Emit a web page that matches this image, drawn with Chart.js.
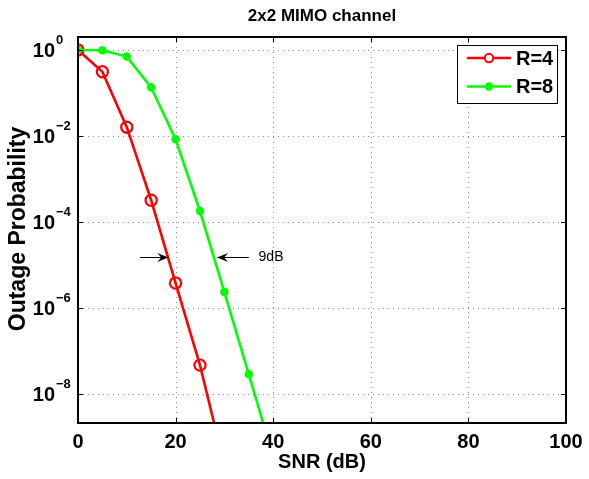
<!DOCTYPE html>
<html><head><meta charset="utf-8">
<script src="https://cdn.jsdelivr.net/npm/chart.js@4/dist/chart.umd.min.js"></script>
<style>html,body{margin:0;padding:0;background:#fff}#wrap{width:589px;height:479px;position:relative}</style>
</head><body><div id="wrap"><canvas id="c" width="589" height="479"></canvas></div>
<script>
// ---- data ----
const snrR4 = [0, 5, 10, 15, 20, 25, 30];
const outageR4 = [1.0, 0.31, 0.016, 3.2e-4, 3.8e-6, 4.7e-8, 2.2e-10];
const snrR8 = [0, 5, 10, 15, 20, 25, 30, 35, 40];
const outageR8 = [1.0, 0.98, 0.70, 0.135, 0.0084, 1.8e-4, 2.35e-6, 2.9e-8, 3.5e-10];
const seriesNames = ['R=4', 'R=8'];
const xTicks = [0, 20, 40, 60, 80, 100];
const yTickExps = [0, -2, -4, -6, -8];
const titleText = '2x2 MIMO channel';
const xLabel = 'SNR (dB)';
const yLabel = 'Outage Probability';
const annotY = 1.55e-5;
const arrowLeftX = [12.7, 18.5];   // tail, head
const arrowRightX = [35.0, 28.5];  // tail, head
const annotLabelX = 37.0;
const annotText = '9dB';

const FONT = '"Liberation Sans", Arial, Helvetica, sans-serif';
const RED = '#ff0000', GREEN = '#00ff00';

function seg(ctx, x1, y1, x2, y2) { ctx.beginPath(); ctx.moveTo(x1, y1); ctx.lineTo(x2, y2); ctx.stroke(); }
function arrow(ctx, x1, y, x2) {
  ctx.strokeStyle = '#000'; ctx.lineWidth = 1; ctx.setLineDash([]);
  seg(ctx, x1, y, x2, y);
  const d = x2 > x1 ? 1 : -1;
  ctx.fillStyle = '#000';
  ctx.beginPath();
  ctx.moveTo(x2, y);
  ctx.lineTo(x2 - d * 11, y - 4.5);
  ctx.lineTo(x2 - d * 7, y);
  ctx.lineTo(x2 - d * 11, y + 4.5);
  ctx.closePath(); ctx.fill();
}

const matlabLook = {
  id: 'matlabLook',
  beforeDatasetsDraw(chart) {
    const { ctx, chartArea: a, scales: { x, y } } = chart;
    ctx.save();
    ctx.strokeStyle = '#8a8a8a'; ctx.lineWidth = 1; ctx.setLineDash([1, 4]);
    xTicks.forEach(v => {
      const px = Math.round(x.getPixelForValue(v)) + 0.5;
      if (px <= a.left + 2 || px >= a.right - 2) return;
      seg(ctx, px, a.top, px, a.bottom);
    });
    yTickExps.forEach(e => {
      const py = Math.round(y.getPixelForValue(Math.pow(10, e))) + 0.5;
      if (py <= a.top + 2 || py >= a.bottom - 2) return;
      seg(ctx, a.left, py, a.right, py);
    });
    ctx.restore();
  },
  afterDatasetsDraw(chart) {
    const { ctx, chartArea: a, scales: { x, y } } = chart;
    ctx.save();
    ctx.setLineDash([]);
    // box
    ctx.strokeStyle = '#000'; ctx.lineWidth = 2;
    ctx.strokeRect(a.left, a.top, a.right - a.left, a.bottom - a.top);
    // inward ticks
    ctx.lineWidth = 1;
    const TL = 5;
    xTicks.forEach(v => {
      const px = Math.round(x.getPixelForValue(v)) + 0.5;
      seg(ctx, px, a.bottom, px, a.bottom - TL);
      seg(ctx, px, a.top, px, a.top + TL);
    });
    yTickExps.forEach(e => {
      const py = Math.round(y.getPixelForValue(Math.pow(10, e))) + 0.5;
      seg(ctx, a.left, py, a.left + TL, py);
      seg(ctx, a.right, py, a.right - TL, py);
    });
    // x tick labels
    ctx.fillStyle = '#000';
    ctx.font = 'bold 20px ' + FONT;
    ctx.textAlign = 'center'; ctx.textBaseline = 'alphabetic';
    xTicks.forEach(v => ctx.fillText(String(v), x.getPixelForValue(v), a.bottom + 25));
    // y tick labels 10^e
    yTickExps.forEach(e => {
      const py = y.getPixelForValue(Math.pow(10, e));
      ctx.font = 'bold 20px ' + FONT;
      ctx.textAlign = 'right';
      ctx.fillText('10', a.left - 23, py + 7);
      ctx.font = 'bold 13px ' + FONT;
      ctx.textAlign = 'left';
      ctx.fillText(e === 0 ? '0' : '\u2212' + String(-e), a.left - 22, py - 6);
    });
    // title
    ctx.font = 'bold 17px ' + FONT;
    ctx.textAlign = 'center';
    ctx.fillText(titleText, (a.left + a.right) / 2, 21);
    // x label
    ctx.font = 'bold 20px ' + FONT;
    ctx.fillText(xLabel, (a.left + a.right) / 2, 468);
    // y label
    ctx.save();
    ctx.translate(25, 229);
    ctx.rotate(-Math.PI / 2);
    ctx.font = 'bold 23px ' + FONT;
    ctx.textAlign = 'center';
    ctx.fillText(yLabel, 0, 0);
    ctx.restore();
    // annotation
    const ay = Math.round(y.getPixelForValue(annotY)) + 0.5;
    arrow(ctx, x.getPixelForValue(arrowLeftX[0]), ay, x.getPixelForValue(arrowLeftX[1]));
    arrow(ctx, x.getPixelForValue(arrowRightX[0]), ay, x.getPixelForValue(arrowRightX[1]));
    ctx.font = '14px ' + FONT;
    ctx.textAlign = 'left'; ctx.textBaseline = 'middle';
    ctx.fillStyle = '#000';
    ctx.fillText(annotText, x.getPixelForValue(annotLabelX), ay);
    // legend
    const lx = a.right - 109, ly = a.top + 8, lw = 100, lh = 58;
    ctx.fillStyle = '#fff';
    ctx.fillRect(lx, ly, lw, lh);
    ctx.strokeStyle = '#000'; ctx.lineWidth = 1;
    ctx.strokeRect(lx + 0.5, ly + 0.5, lw, lh);
    chart.data.datasets.forEach((ds, i) => {
      const ry = ly + 13 + i * 28.5;
      ctx.strokeStyle = ds.borderColor; ctx.lineWidth = 2.5;
      seg(ctx, lx + 10, ry, lx + 54, ry);
      ctx.beginPath(); ctx.arc(lx + 32, ry, 4.2, 0, Math.PI * 2);
      if (ds.pointBackgroundColor !== 'rgba(0,0,0,0)') {
        ctx.fillStyle = ds.borderColor; ctx.fill();
      } else {
        ctx.fillStyle = '#fff'; ctx.fill(); ctx.lineWidth = 2; ctx.stroke();
      }
      ctx.fillStyle = '#000';
      ctx.font = 'bold 20px ' + FONT;
      ctx.textAlign = 'left'; ctx.textBaseline = 'middle';
      ctx.fillText(ds.label, lx + 59, ry + 1);
    });
    ctx.restore();
  }
};

new Chart(document.getElementById('c'), {
  type: 'line',
  data: {
    datasets: [
      {
        label: seriesNames[0],
        data: snrR4.map((s, i) => ({ x: s, y: outageR4[i] })),
        borderColor: RED, borderWidth: 2.6,
        pointStyle: 'circle', pointRadius: 5.6, pointBorderWidth: 2.2,
        pointBorderColor: RED, pointBackgroundColor: 'rgba(0,0,0,0)',
        tension: 0, order: 1
      },
      {
        label: seriesNames[1],
        data: snrR8.map((s, i) => ({ x: s, y: outageR8[i] })),
        borderColor: GREEN, borderWidth: 2.6,
        pointStyle: 'circle', pointRadius: 3.8, pointBorderWidth: 1,
        pointBorderColor: GREEN, pointBackgroundColor: GREEN,
        tension: 0, order: 0
      }
    ]
  },
  options: {
    responsive: false, animation: false, devicePixelRatio: 1,
    layout: { padding: { top: 37, right: 23, bottom: 0, left: 0 } },
    plugins: { legend: { display: false }, title: { display: false }, tooltip: { enabled: false } },
    scales: {
      x: {
        type: 'linear', min: 0, max: 100,
        afterBuildTicks: s => { s.ticks = xTicks.map(v => ({ value: v })); },
        afterFit: s => { s.height = 56; },
        ticks: { display: false }, grid: { display: false }, border: { display: false }
      },
      y: {
        type: 'logarithmic', min: 2.12e-9, max: 2.0,
        afterBuildTicks: s => { s.ticks = yTickExps.map(e => ({ value: Math.pow(10, e) })); },
        afterFit: s => { s.width = 78; },
        ticks: { display: false }, grid: { display: false }, border: { display: false }
      }
    }
  },
  plugins: [matlabLook]
});
</script>
</body></html>
